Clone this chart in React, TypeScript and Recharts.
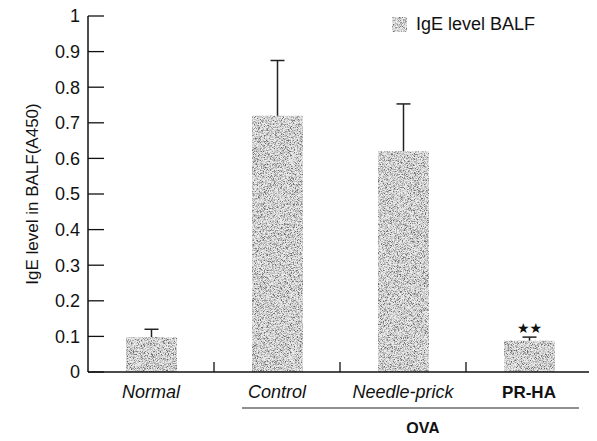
import { BarChart, Bar, XAxis, YAxis, Legend, Label } from "recharts";

const CATEGORIES = ["Normal", "Control", "Needle-prick", "PR-HA"];
const IGE_MEAN = [0.098, 0.72, 0.62, 0.088];
const IGE_ERR = [0.022, 0.155, 0.133, 0.01];
const SIGNIF = ["", "", "", "★★"];
const Y_TICKS = [0, 0.1, 0.2, 0.3, 0.4, 0.5, 0.6, 0.7, 0.8, 0.9, 1];
const OVA_GROUP = ["Control", "Needle-prick", "PR-HA"];
const BOLD_CATS = ["PR-HA"];

const data = CATEGORIES.map((name, i) => ({
  name,
  ige: IGE_MEAN[i],
  err: IGE_ERR[i],
  sig: SIGNIF[i],
}));

const FONT = "'Liberation Sans', Arial, Helvetica, sans-serif";
const W = 597;
const H = 441;
const MARGIN = { top: 16, right: 5, left: 8, bottom: 0 };
const Y_W = 80;
const BAND = (W - MARGIN.left - MARGIN.right - Y_W) / CATEGORIES.length;

const fmtY = (v: number) => (v === 0 || v === 1 ? String(v) : v.toFixed(1));

// etiqueta + marca hacia dentro
const YTick = (props: any) => {
  const { x, y, payload } = props;
  return (
    <g>
      <text x={x} y={y} dy="0.36em" textAnchor="end" fontSize={18} fontFamily={FONT} fill="#111">
        {fmtY(payload.value)}
      </text>
      <line x1={x + 8} x2={x + 24} y1={y} y2={y} stroke="#111" strokeWidth={1.3} />
    </g>
  );
};

const XTick = (props: any) => {
  const { x, y, payload } = props;
  const cat: string = payload.value;
  const bold = BOLD_CATS.includes(cat);
  const half = BAND / 2;
  const gi = OVA_GROUP.indexOf(cat);
  let bracket = null;
  if (gi >= 0) {
    const left = gi === 0 ? x - 35 : x - half;
    const right = gi === OVA_GROUP.length - 1 ? x + 50 : x + half;
    bracket = <line x1={left} x2={right} y1={y + 36} y2={y + 36} stroke="#222" strokeWidth={1.2} />;
  }
  return (
    <g>
      <line x1={x + half} x2={x + half} y1={y} y2={y - 10} stroke="#111" strokeWidth={1.3} />
      <text
        x={x}
        y={y + 26}
        textAnchor="middle"
        fontSize={bold ? 17 : 18}
        fontStyle={bold ? "normal" : "italic"}
        fontWeight={bold ? "bold" : "normal"}
        fontFamily={FONT}
        fill="#111"
      >
        {cat}
      </text>
      {bracket}
      {gi === 1 && (
        <text x={x + 20} y={y + 62} textAnchor="middle" fontSize={16} fontWeight="bold" fontFamily={FONT} fill="#111">
          OVA
        </text>
      )}
    </g>
  );
};

// barra punteada con barra de error solo hacia arriba
const StippleBar = (props: any) => {
  const { x, y, width, height, payload } = props;
  const pxPerUnit = height / payload.ige;
  const topY = y - payload.err * pxPerUnit;
  const cx = x + width / 2;
  return (
    <g>
      <rect x={x} y={y} width={width} height={height} fill="#ececec" filter="url(#grain)" />
      <line x1={cx} x2={cx} y1={y} y2={topY} stroke="#222" strokeWidth={1.5} />
      <line x1={cx - 7} x2={cx + 7} y1={topY} y2={topY} stroke="#222" strokeWidth={1.5} />
      {payload.sig && (
        <text x={cx} y={topY - 4} textAnchor="middle" fontSize={14} fontFamily="'DejaVu Sans', sans-serif" fill="#111">
          {payload.sig}
        </text>
      )}
    </g>
  );
};

const LegendBox = () => (
  <div style={{ display: "flex", alignItems: "center", fontFamily: FONT, fontSize: 18, color: "#111" }}>
    <svg width={15} height={15} style={{ marginRight: 9 }}>
      <rect x={0} y={0} width={15} height={15} fill="#ececec" filter="url(#grain)" />
    </svg>
    <span>IgE level BALF</span>
  </div>
);

export default function App() {
  return (
    <div style={{ margin: -8 }}>
      <BarChart width={W} height={H} data={data} margin={MARGIN}>
        <defs>
          <filter id="grain" x="0" y="0" width="1" height="1">
            <feTurbulence type="fractalNoise" baseFrequency="1.3" numOctaves="2" seed="7" result="noise" />
            <feColorMatrix
              in="noise"
              type="matrix"
              values="0 0 0 0 0.15  0 0 0 0 0.15  0 0 0 0 0.15  3.2 0 0 0 -1.3"
              result="dots"
            />
            <feComposite in="dots" in2="SourceGraphic" operator="in" result="clipped" />
            <feMerge>
              <feMergeNode in="SourceGraphic" />
              <feMergeNode in="clipped" />
            </feMerge>
          </filter>
        </defs>
        <XAxis
          dataKey="name"
          height={69}
          tickLine={false}
          tickSize={0}
          tickMargin={0}
          axisLine={{ stroke: "#111", strokeWidth: 1.5 }}
          tick={<XTick />}
          interval={0}
        />
        <YAxis
          width={Y_W}
          domain={[0, 1]}
          ticks={Y_TICKS}
          tickLine={false}
          tickSize={0}
          tickMargin={8}
          axisLine={{ stroke: "#111", strokeWidth: 1.5 }}
          tick={<YTick />}
          interval={0}
        >
          <Label
            value="IgE level in BALF(A450)"
            angle={-90}
            position="insideLeft"
            offset={24}
            style={{ textAnchor: "middle", fontSize: 17, fontFamily: FONT, fill: "#111" }}
          />
        </YAxis>
        <Legend
          verticalAlign="middle"
          align="center"
          layout="horizontal"
          wrapperStyle={{ top: 14, left: 392, width: "auto" }}
          content={<LegendBox />}
        />
        <Bar dataKey="ige" barSize={51} shape={<StippleBar />} isAnimationActive={false} />
      </BarChart>
    </div>
  );
}
